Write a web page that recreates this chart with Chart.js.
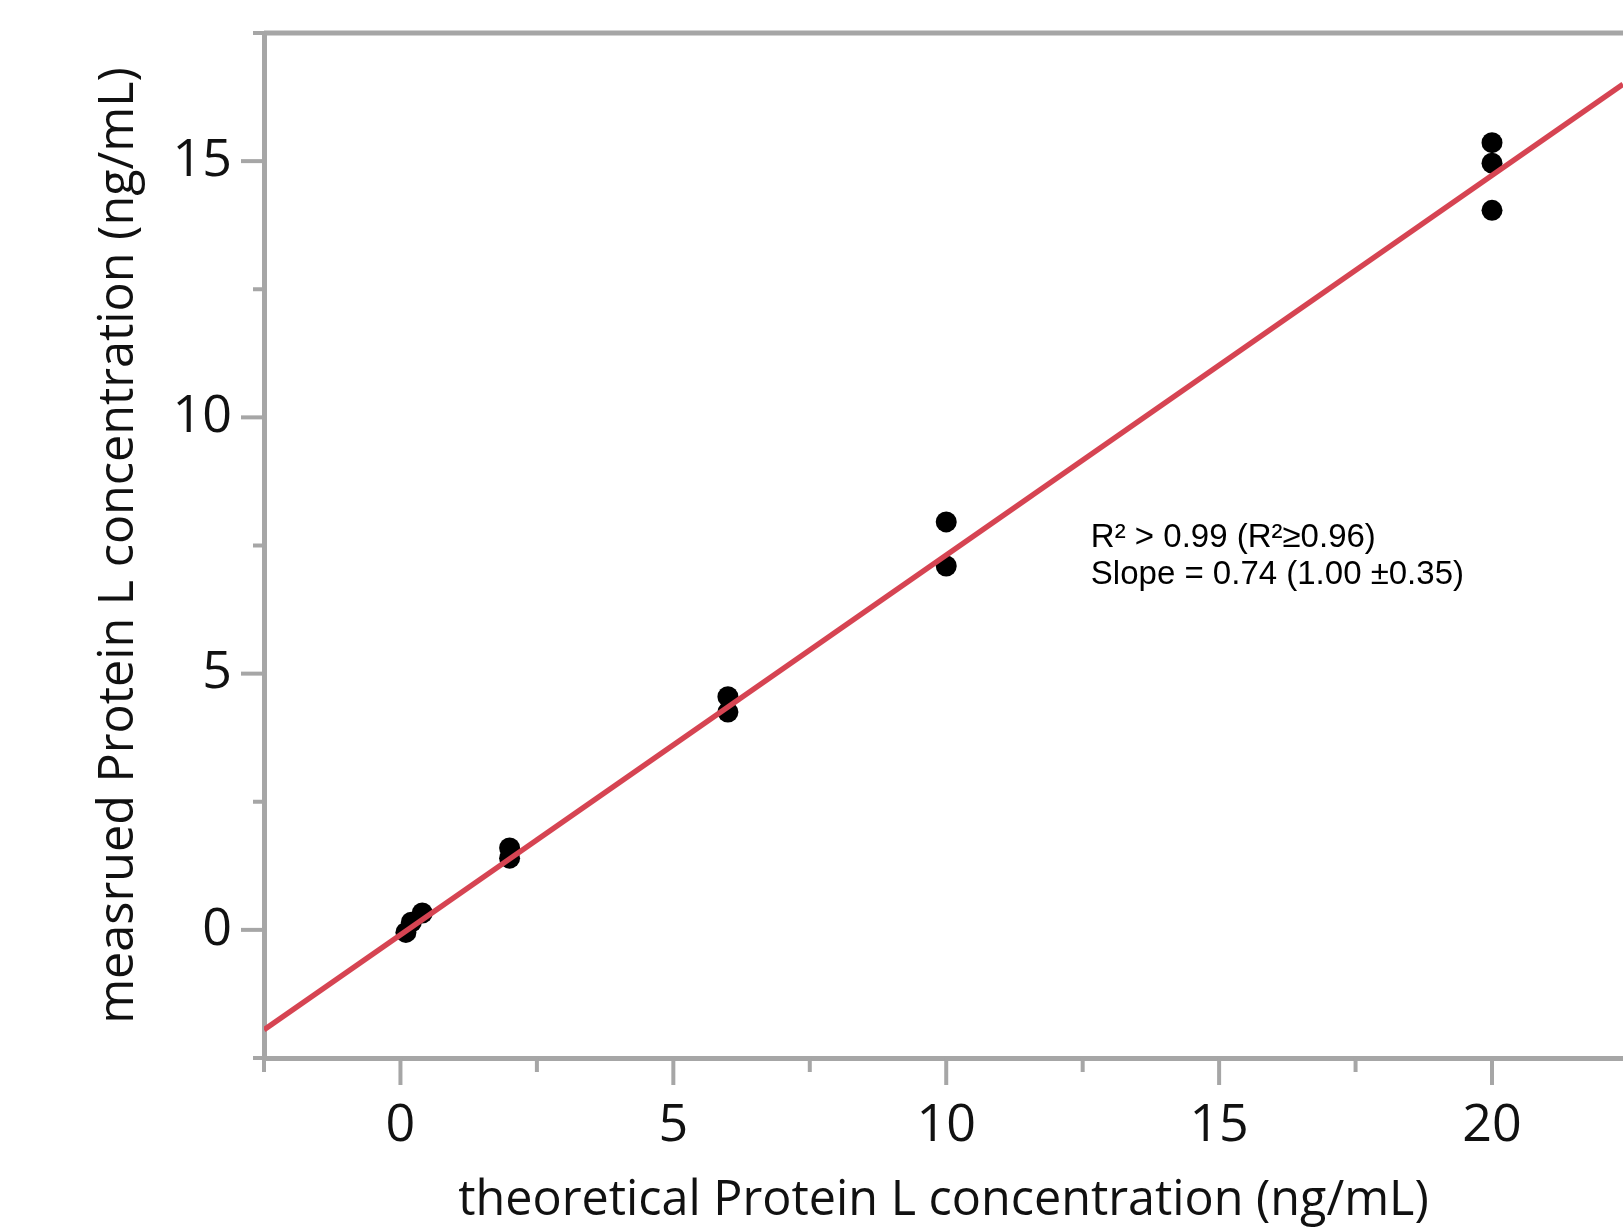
<!DOCTYPE html>
<html>
<head>
<meta charset="utf-8">
<title>Protein L concentration</title>
<script src="https://cdn.jsdelivr.net/npm/chart.js@4.4.0/dist/chart.umd.min.js"></script>
<style>
	html, body { margin: 0; padding: 0; background: #fff; overflow: hidden; }
	#chart-wrap { width: 1623px; height: 1228px; }
</style>
</head>
<body>
<div id="chart-wrap"><canvas id="protein-l-chart" width="1623" height="1228"></canvas></div>
<script>
// values (ng/mL)
const theoreticalConc = [0.1, 0.2, 0.4, 2, 2, 6, 6, 10, 10, 20, 20, 20];
const measuredConc = [-0.05, 0.15, 0.33, 1.6, 1.4, 4.55, 4.25, 7.96, 7.1, 15.36, 14.96, 14.04];

// regression line, end points
const fitX = [-2.5, 22.4];
const fitY = [-1.95, 16.5];

const xRange = [-2.5, 22.4];
const yRange = [-2.5, 17.5];
const xTickValues = [-2.5, 0, 2.5, 5, 7.5, 10, 12.5, 15, 17.5, 20];
const yTickValues = [-2.5, 0, 2.5, 5, 7.5, 10, 12.5, 15, 17.5];
const labelStep = 5;

const annotationLines = ['R\u00b2 > 0.99 (R\u00b2\u22650.96)', 'Slope = 0.74 (1.00 \u00b10.35)'];
const annotationAt = [12.65, 7.48];

const axisGray = '#a6a6a6';
const lineRed = '#d64452';
const uiFont = '"Open Sans", "Noto Sans", sans-serif';

const isStep = (v, s) => Math.abs(v / s - Math.round(v / s)) < 1e-6;

// frame top line, major/minor ticks and the fit text
const frameAndTicks = {
	id: 'frameAndTicks',
	afterDraw: (chart) => {
		const { ctx, chartArea, scales } = chart;
		ctx.save();
		ctx.strokeStyle = axisGray;
		ctx.lineWidth = 5;
		ctx.beginPath();
		ctx.moveTo(chartArea.left, chartArea.top);
		ctx.lineTo(chartArea.right, chartArea.top);
		ctx.stroke();

		ctx.lineWidth = 4;
		scales.x.ticks.forEach((t) => {
			let px = scales.x.getPixelForValue(t.value);
			let len = isStep(t.value, labelStep) ? 27 : 14;
			ctx.beginPath();
			ctx.moveTo(px, chartArea.bottom);
			ctx.lineTo(px, chartArea.bottom + len);
			ctx.stroke();
		});
		scales.y.ticks.forEach((t) => {
			let py = scales.y.getPixelForValue(t.value);
			let len = isStep(t.value, labelStep) ? 23 : 11;
			ctx.beginPath();
			ctx.moveTo(chartArea.left, py);
			ctx.lineTo(chartArea.left - len, py);
			ctx.stroke();
		});

		ctx.fillStyle = '#000';
		ctx.font = '33px "Liberation Sans", Arial, sans-serif';
		ctx.textBaseline = 'alphabetic';
		ctx.textAlign = 'left';
		let ax = scales.x.getPixelForValue(annotationAt[0]);
		let ay = scales.y.getPixelForValue(annotationAt[1]);
		annotationLines.forEach((line, i) => {
			ctx.fillText(line, ax, ay + i * 37);
		});
		ctx.restore();
	}
};

let points = theoreticalConc.map((x, i) => ({ x: x, y: measuredConc[i] }));
let fitLine = fitX.map((x, i) => ({ x: x, y: fitY[i] }));

let data = {
	datasets: [
		{
			type: 'line',
			data: fitLine,
			borderColor: lineRed,
			borderWidth: 5.5,
			pointRadius: 0,
			fill: false,
			order: 0
		},
		{
			type: 'scatter',
			data: points,
			backgroundColor: '#000',
			borderWidth: 0,
			pointRadius: 10.5,
			order: 1
		}
	]
};

let options = {
	responsive: false,
	animation: false,
	devicePixelRatio: 1,
	layout: { autoPadding: false, padding: { top: 33, right: 0, bottom: 0, left: 0 } },
	plugins: {
		legend: { display: false },
		tooltip: { enabled: false }
	},
	scales: {
		x: {
			type: 'linear',
			min: xRange[0],
			max: xRange[1],
			border: { color: axisGray, width: 5 },
			grid: { display: false, drawTicks: false },
			afterBuildTicks: (scale) => {
				scale.ticks = xTickValues.map((v) => ({ value: v }));
			},
			ticks: {
				autoSkip: false,
				maxRotation: 0,
				padding: 42,
				color: '#111',
				font: { family: uiFont, size: 52, lineHeight: 1 },
				callback: (v) => isStep(v, labelStep) ? v : ''
			},
			title: {
				display: true,
				text: 'theoretical Protein L concentration (ng/mL)',
				color: '#111',
				font: { family: uiFont, size: 48.5, lineHeight: 1 },
				padding: { top: 0, bottom: 3 }
			},
			afterFit: (scale) => {
				scale.height = 170;
				scale.paddingLeft = 0;
				scale.paddingRight = 0;
			}
		},
		y: {
			type: 'linear',
			min: yRange[0],
			max: yRange[1],
			border: { color: axisGray, width: 5 },
			grid: { display: false, drawTicks: false },
			afterBuildTicks: (scale) => {
				scale.ticks = yTickValues.map((v) => ({ value: v }));
			},
			ticks: {
				autoSkip: false,
				padding: 32,
				color: '#111',
				font: { family: uiFont, size: 52, lineHeight: 1 },
				callback: (v) => isStep(v, labelStep) ? v : ''
			},
			title: {
				display: true,
				text: 'measrued Protein L concentration (ng/mL)',
				color: '#111',
				font: { family: uiFont, size: 48.5, lineHeight: 1 },
				padding: { top: 95, bottom: 0 }
			},
			afterFit: (scale) => {
				scale.width = 264;
				scale.paddingTop = 0;
				scale.paddingBottom = 0;
			}
		}
	}
};

new Chart(document.getElementById('protein-l-chart'), {
	type: 'scatter',
	data: data,
	options: options,
	plugins: [frameAndTicks]
});
</script>
</body>
</html>
